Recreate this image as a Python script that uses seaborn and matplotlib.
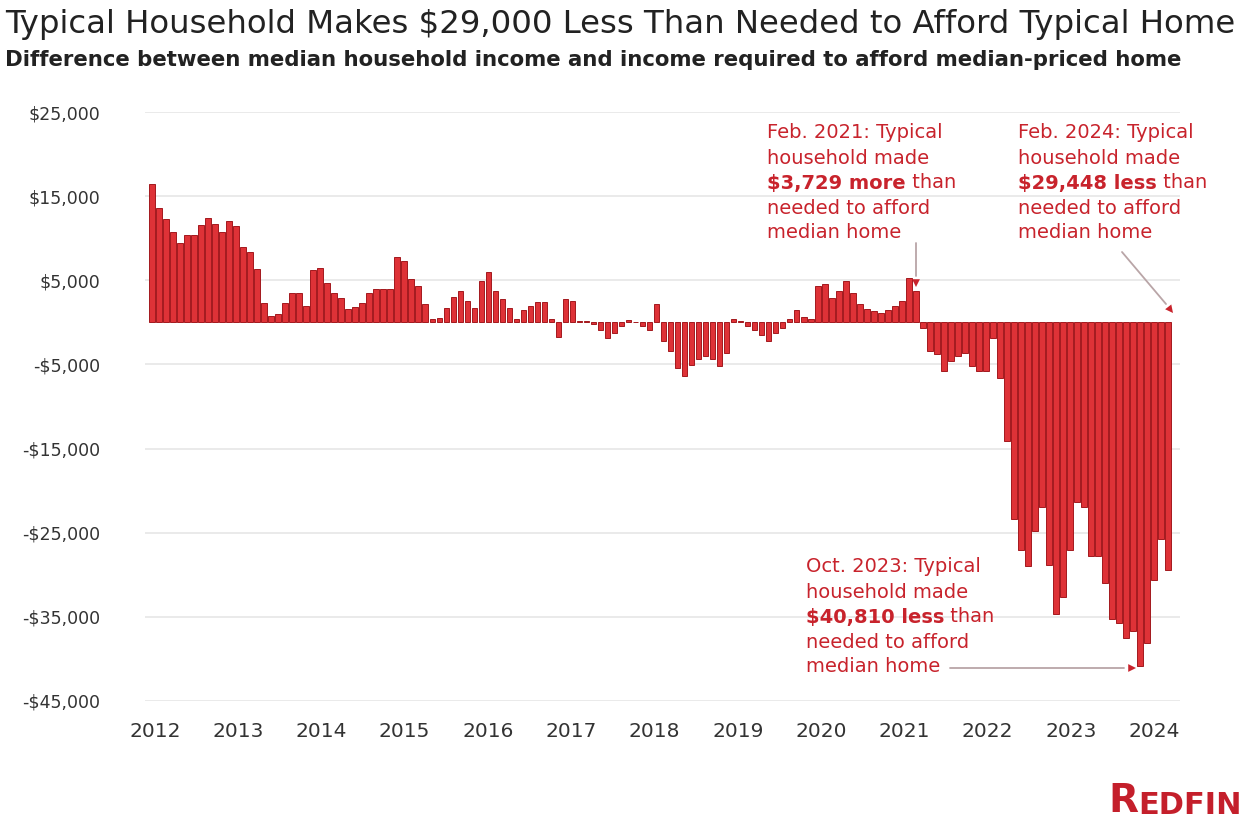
import numpy as np
import pandas as pd
import seaborn as sns
import matplotlib.pyplot as plt

# gap between median household income and income needed for median-priced home (USD), monthly
y2012 = [16400, 13600, 12250, 10750, 9400, 10350, 10350, 11550, 12450, 11650, 10750, 12050]
y2013 = [11400, 9000, 8350, 6300, 2250, 750, 950, 2250, 3450, 3450, 1950, 6250]
y2014 = [6500, 4700, 3500, 2950, 1550, 1800, 2350, 3500, 4000, 4000, 4000, 7800]
y2015 = [7300, 5100, 4300, 2150, 450, 550, 1750, 3050, 3700, 2550, 1750, 4950]
y2016 = [6000, 3700, 2800, 1750, 350, 1450, 1950, 2400, 2400, 350, -1700, 2750]
y2017 = [2550, 150, 150, -250, -850, -1800, -1250, -450, 300, 0, -450, -850]
y2018 = [2150, -2200, -3400, -5400, -6400, -5100, -4400, -4000, -4400, -5200, -3700, 350]
y2019 = [200, -450, -850, -1450, -2200, -1250, -650, 450, 1450, 650, 350, 4300]
y2020 = [4500, 2950, 3700, 4900, 3500, 2150, 1600, 1350, 1150, 1450, 1950, 2550]
y2021 = [5300, 3729, -650, -3400, -3800, -5800, -4600, -4000, -3600, -5200, -5800, -5800]
y2022 = [-1800, -6600, -14100, -23400, -27000, -29000, -24800, -21900, -28800, -34700, -32600, -27000]
y2023 = [-21300, -21900, -27800, -27800, -31000, -35300, -35700, -37500, -36700, -40810, -38100, -30600]
y2024 = [-25700, -29448]

year_labels = [str(y) for y in range(2012, 2025)]
y_ticks = [25000, 15000, 5000, -5000, -15000, -25000, -35000, -45000]

gap = (y2012 + y2013 + y2014 + y2015 + y2016 + y2017 + y2018 + y2019
       + y2020 + y2021 + y2022 + y2023 + y2024)
months = pd.date_range("2012-01-01", periods=len(gap), freq="MS").strftime("%Y-%m")
df = pd.DataFrame({"month": months, "gap": gap})

RED = "#de3237"
EDGE = "#a3191e"
TXT_RED = "#c8232c"
W, H = 1248, 819


def fx(px):
    return px / W


def fy(py):
    return 1 - py / H


sns.set_theme(style="white")
plt.rcParams["font.family"] = ["DejaVu Sans"]

fig = plt.figure(figsize=(12.48, 8.19), dpi=100)
ax = fig.add_axes([fx(145), fy(701), (1180 - 145) / W, (701 - 112) / H])

sns.barplot(data=df, x="month", y="gap", color=RED, saturation=1, width=0.8,
            edgecolor=EDGE, linewidth=0.7, ax=ax, zorder=2)

ax.set_ylim(-45000, 25000)
ax.set_xlim(-1, 146.7)
ax.set_yticks(y_ticks)
ax.set_yticklabels([f"${v:,}" if v > 0 else f"-${-v:,}" for v in y_ticks])
ax.set_xticks(np.linspace(0.4, 143, len(year_labels)))
ax.set_xticklabels(year_labels)
ax.tick_params(axis="y", length=0, pad=32, labelsize=12.5, labelcolor="#333333")
ax.tick_params(axis="x", length=0, pad=15, labelsize=14.5, labelcolor="#333333")
ax.set_xlabel("")
ax.set_ylabel("")
ax.yaxis.grid(True, color="#e6e6e6", lw=1.2)
ax.set_axisbelow(True)
sns.despine(ax=ax, left=True, bottom=True)

fig.text(fx(5), fy(25), "Typical Household Makes $29,000 Less Than Needed to Afford Typical Home",
         fontsize=23.3, color="#222222", va="center")
fig.text(fx(5), fy(60), "Difference between median household income and income required to afford median-priced home",
         fontsize=15.3, color="#222222", va="center", weight="bold")


def note(x, y, head, bold, tail):
    lines = [head, "household made", None, "needed to afford", "median home"]
    step = 25
    for i, line in enumerate(lines):
        yy = fy(y + i * step)
        if line is None:
            t = fig.text(fx(x), yy, bold, fontsize=14, color=TXT_RED, weight="bold", va="center")
            ax.annotate(tail, xy=(1, 0), xycoords=t, va="bottom", ha="left",
                        fontsize=14, color=TXT_RED, annotation_clip=False)
        else:
            fig.text(fx(x), yy, line, fontsize=14, color=TXT_RED, va="center")


note(767, 133, "Feb. 2021: Typical", "$3,729 more", " than")
note(1018, 133, "Feb. 2024: Typical", "$29,448 less", " than")
note(806, 567, "Oct. 2023: Typical", "$40,810 less", " than")


def arrow(p0, p1, tip):
    fig.add_artist(plt.Line2D([fx(p0[0]), fx(p1[0])], [fy(p0[1]), fy(p1[1])],
                              color="#b9a5a7", lw=1.3))
    ax.annotate("", xy=(fx(tip[0]), fy(tip[1])), xycoords="figure fraction",
                xytext=(fx(p1[0]), fy(p1[1])), textcoords="figure fraction",
                arrowprops=dict(arrowstyle="-|>", color=TXT_RED, lw=0, mutation_scale=14,
                                shrinkA=0, shrinkB=0), annotation_clip=False)


arrow((916, 243), (916, 276), (916, 287))
arrow((1122, 252), (1166, 304), (1173, 313))
arrow((950, 668), (1124, 668), (1136, 668))

r = fig.text(fx(1108), fy(812), "R", fontsize=28, color="#c41f2b", weight="bold",
             va="baseline")
ax.annotate("EDFIN", xy=(1, 0), xycoords=r, va="bottom", ha="left", fontsize=22,
            color="#c41f2b", weight="bold", annotation_clip=False)

fig.savefig("out.png", dpi=100)
